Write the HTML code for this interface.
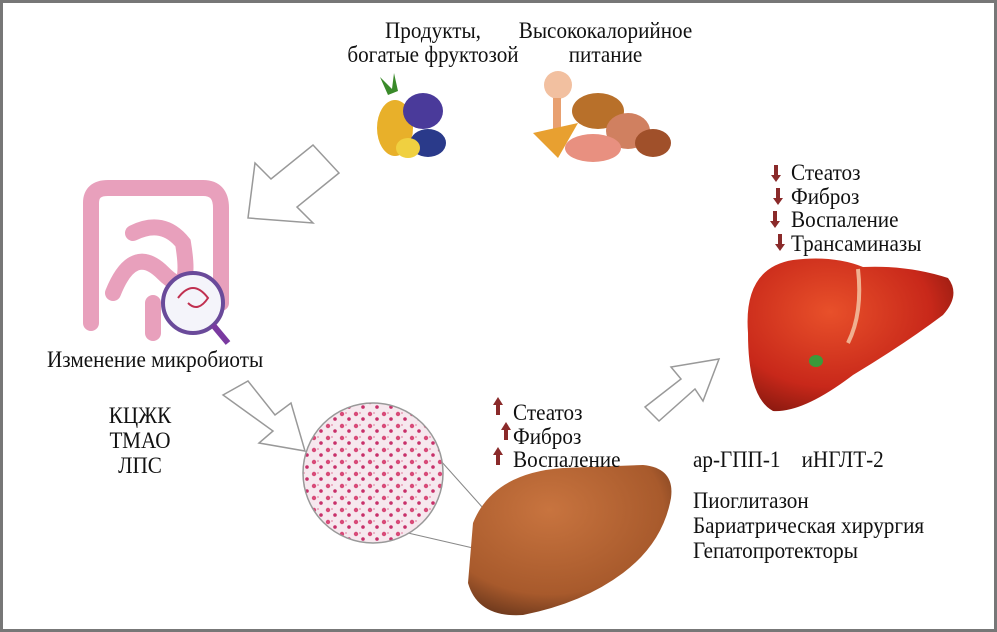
<!DOCTYPE html>
<html><head><meta charset="utf-8"><style>
html,body{margin:0;padding:0;background:#fff;}
#c{position:relative;width:997px;height:632px;overflow:hidden;box-sizing:border-box;border:3px solid #777;background:#fff;font-family:"Liberation Serif","Noto Serif CJK SC",serif;color:#111;}
.t{position:absolute;font-size:23px;line-height:24px;white-space:nowrap;transform-origin:left top;transform:scaleX(0.92);}
.ct{text-align:center;transform-origin:center top;}
svg{position:absolute;left:0;top:0;}
</style></head><body><div id="c">
<svg width="997" height="632" viewBox="0 0 997 632">
<defs>
<radialGradient id="lr" cx="0.4" cy="0.35" r="0.7"><stop offset="0" stop-color="#e8502a"/><stop offset="0.7" stop-color="#c8281a"/><stop offset="1" stop-color="#8e1a10"/></radialGradient>
<radialGradient id="lb" cx="0.4" cy="0.3" r="0.8"><stop offset="0" stop-color="#c8743f"/><stop offset="0.7" stop-color="#a85a2c"/><stop offset="1" stop-color="#5a2e18"/></radialGradient>
<pattern id="dots" width="14" height="12" patternUnits="userSpaceOnUse"><rect width="14" height="12" fill="#f6e8ee"/><circle cx="3" cy="3" r="2.2" fill="#d84a78"/><circle cx="10" cy="8" r="1.8" fill="#c8306a"/><circle cx="7" cy="2" r="1" fill="#e8a0b8"/></pattern>
</defs>
<!-- fruits -->
<ellipse cx="392" cy="125" rx="18" ry="28" fill="#e8b02a"/>
<path d="M385 92 l-8 -18 l12 12 l2 -16 l4 18 z" fill="#3a8a2a"/>
<ellipse cx="420" cy="108" rx="20" ry="18" fill="#4a3a9a"/>
<ellipse cx="425" cy="140" rx="18" ry="14" fill="#2a3a8a"/>
<ellipse cx="405" cy="145" rx="12" ry="10" fill="#f0d040"/>
<!-- food -->
<circle cx="555" cy="82" r="14" fill="#f2c0a0"/>
<rect x="550" y="95" width="8" height="35" fill="#e8a070"/>
<ellipse cx="595" cy="108" rx="26" ry="18" fill="#b8702a"/>
<path d="M530 130 l45 -10 l-20 35 z" fill="#e8a030"/>
<ellipse cx="625" cy="128" rx="22" ry="18" fill="#d08060"/>
<ellipse cx="650" cy="140" rx="18" ry="14" fill="#a0502a"/>
<ellipse cx="590" cy="145" rx="28" ry="14" fill="#e89080"/>
<!-- hollow arrows -->
<g fill="#fff" stroke="#999" stroke-width="1.5">
<path d="M245 215 L252 160 L268 176 L310 142 L336 170 L294 204 L310 220 Z"/>
<path d="M220 392 L245 378 L272 412 L288 400 L302 448 L256 440 L270 428 Z"/>
<path d="M642 404 L678 376 L668 364 L716 356 L700 398 L692 386 L656 418 Z"/>
</g>
<!-- intestine -->
<g fill="none" stroke="#e8a0bc" stroke-width="16" stroke-linecap="round">
<path d="M88 320 L88 200 Q88 185 105 185 L200 185 Q218 185 218 205 L218 300"/>
<path d="M110 290 Q130 240 160 270 Q190 300 180 240 Q160 215 130 230"/>
<path d="M150 300 L150 330"/>
</g>
<circle cx="190" cy="300" r="30" fill="#f4f4fa" stroke="#6a4a9a" stroke-width="4"/>
<line x1="210" y1="322" x2="225" y2="340" stroke="#7a3aa0" stroke-width="6"/>
<path d="M175 295 q15 -20 30 0 q-10 15 -20 5" fill="none" stroke="#c03050" stroke-width="2"/>
<!-- histology circle -->
<line x1="405" y1="530" x2="470" y2="545" stroke="#888"/>
<line x1="395" y1="410" x2="480" y2="505" stroke="#888"/>
<circle cx="370" cy="470" r="70" fill="url(#dots)" stroke="#999" stroke-width="1.5"/>
<!-- fatty liver -->
<path d="M470 520 Q490 470 560 465 L640 462 Q672 465 668 495 Q660 540 620 570 Q580 600 520 612 Q475 615 465 580 Z" fill="url(#lb)"/>
<!-- red liver -->
<path d="M745 330 Q740 265 790 257 Q830 252 860 264 Q905 262 945 275 Q958 292 940 312 Q900 342 850 372 Q800 410 770 408 Q745 395 745 330 Z" fill="url(#lr)"/>
<path d="M855 266 Q860 310 845 340" stroke="#f0b090" stroke-width="4" fill="none"/>
<ellipse cx="813" cy="358" rx="7" ry="6" fill="#3a9a3a"/>
<!-- small arrows -->
<g fill="#8a2a2a">
<path d="M771 162 v10 h-3 l5 7 l5 -7 h-3 v-10 z"/>
<path d="M773 185 v10 h-3 l5 7 l5 -7 h-3 v-10 z"/>
<path d="M770 208 v10 h-3 l5 7 l5 -7 h-3 v-10 z"/>
<path d="M775 231 v10 h-3 l5 7 l5 -7 h-3 v-10 z"/>
<path d="M493 412 v-10 h-3 l5 -8 l5 8 h-3 v10 z"/>
<path d="M501 437 v-10 h-3 l5 -8 l5 8 h-3 v10 z"/>
<path d="M493 462 v-10 h-3 l5 -8 l5 8 h-3 v10 z"/>
</g>
</svg>
<div class="t ct" style="left:335px;top:16px;width:190px;">Продукты,<br>богатые фруктозой</div>
<div class="t ct" style="left:500px;top:16px;width:205px;">Высококалорийное<br>питание</div>
<div class="t" style="left:788px;top:158px;line-height:23.5px;">Стеатоз<br>Фиброз<br>Воспаление<br>Трансаминазы</div>
<div class="t" style="left:44px;top:345px;">Изменение микробиоты</div>
<div class="t ct" style="left:77px;top:400px;width:120px;line-height:25px;">КЦЖК<br>ТМАО<br>ЛПС</div>
<div class="t" style="left:510px;top:398px;line-height:23.5px;">Стеатоз<br>Фиброз<br>Воспаление</div>
<div class="t" style="left:690px;top:445px;">ар-ГПП-1&nbsp;&nbsp;&nbsp;&nbsp;иНГЛТ-2</div>
<div class="t" style="left:690px;top:485px;line-height:25px;">Пиоглитазон<br>Бариатрическая хирургия<br>Гепатопротекторы</div>
</div></body></html>
